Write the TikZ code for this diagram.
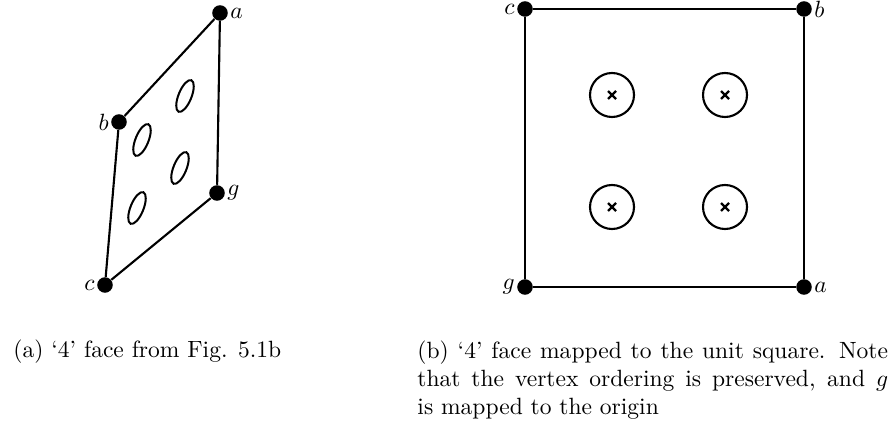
\documentclass[tikz,border=0pt]{standalone}
\begin{document}
\begin{tikzpicture}[x=0.425pt,y=0.425pt,
  edge/.style={line width=0.9pt},
  vdot/.style={circle,fill=black,inner sep=0pt,minimum size=6.6pt},
  hole/.style={line width=0.85pt},
  ring/.style={line width=0.9pt},
  cross/.style={line width=1pt},
  lab/.style={inner sep=0.7pt,font=\normalsize}]
\useasboundingbox (0,0) rectangle (894,428);
% left figure
\node[vdot] (la) at (220,415) {};
\node[vdot] (lb) at (119,306) {};
\node[vdot] (lg) at (217,235) {};
\node[vdot] (lc) at (105,143) {};
\draw[edge] (la) -- (lb) -- (lc) -- (lg) -- (la);
\node[lab,anchor=west] (tla) at (la.east) {$a$};
\node[lab,anchor=east] (tlb) at (lb.west) {$b$};
\node[lab,anchor=west] (tlg) at (lg.east) {$g$};
\node[lab,anchor=east] (tlc) at (lc.west) {$c$};
\draw[hole,rotate around={-22:(185,332)}] (185,332) ellipse (6.5 and 17);
\draw[hole,rotate around={-22:(142,288)}] (142,288) ellipse (6.5 and 17);
\draw[hole,rotate around={-22:(180,260)}] (180,260) ellipse (6.5 and 17);
\draw[hole,rotate around={-22:(137,220)}] (137,220) ellipse (6.5 and 17);
% right figure
\node[vdot] (rc) at (525,419) {};
\node[vdot] (rb) at (804,419) {};
\node[vdot] (rg) at (525,141) {};
\node[vdot] (ra) at (804,141) {};
\draw[edge] (rc) -- (rb) -- (ra) -- (rg) -- (rc);
\node[lab,anchor=east] (trc) at (rc.west) {$c$};
\node[lab,anchor=west] (trb) at (rb.east) {$b$};
\node[lab,anchor=east] (trg) at (rg.west) {$g$};
\node[lab,anchor=west] (tra) at (ra.east) {$a$};
\foreach \cx/\cy in {612/333,725/333,612/221,725/221}{
  \draw[ring] (\cx,\cy) circle (22);
  \draw[cross] (\cx-4,\cy-4) -- (\cx+4,\cy+4) (\cx-4,\cy+4) -- (\cx+4,\cy-4);
}
% captions
\node[anchor=base west,inner sep=0pt] (capa) at (13,70) {(a) `4' face from Fig. 5.1b};
\node[anchor=north west,inner sep=0pt,text width=200pt,align=justify] (capb) at (417,87.6)
 {(b) `4' face mapped to the unit square. Note\linebreak that the vertex ordering is preserved, and $g$\linebreak is mapped to the origin};
\end{tikzpicture}
\end{document}
